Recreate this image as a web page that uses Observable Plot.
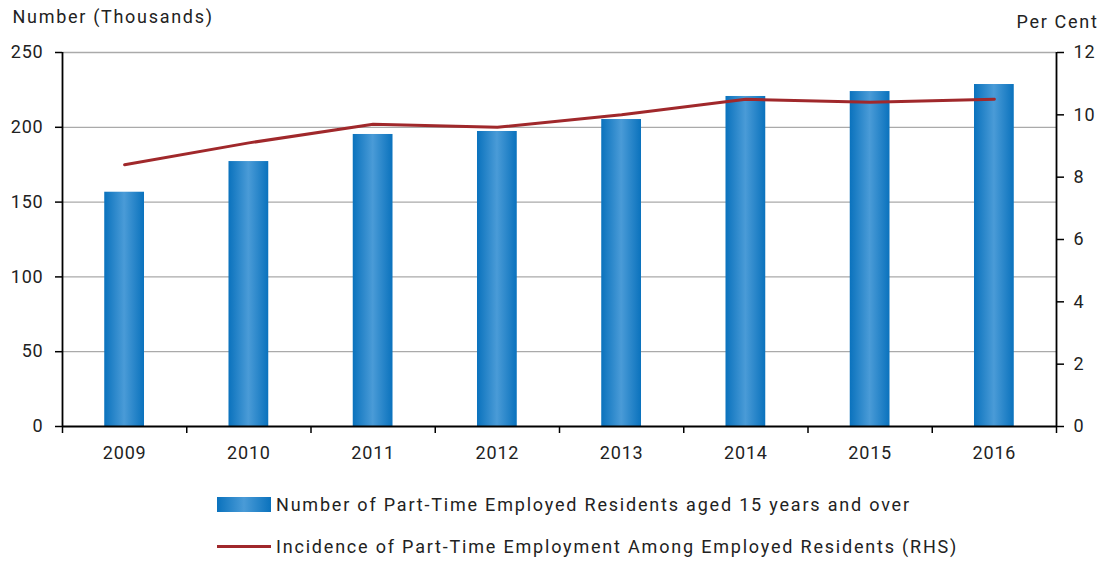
<!DOCTYPE html>
<html>
<head>
<meta charset="utf-8">
<script src="https://cdn.jsdelivr.net/npm/d3@7"></script>
<script src="https://cdn.jsdelivr.net/npm/@observablehq/plot@0.6"></script>
<style>
  html, body { margin: 0; padding: 0; background: #fff; }
  body { width: 1103px; height: 563px; overflow: hidden; font-family: Roboto, "Liberation Sans", sans-serif; color: #222; }
  #chart svg { display: block; }
  #chart g[aria-label="text"] text { letter-spacing: 1.7px; }
  #chart g[aria-label$="tick label"] text { letter-spacing: 0.8px; }
  .legend { position: relative; height: 93px; font-size: 18px; letter-spacing: 1.8px; }
  .item { position: absolute; left: 217px; display: flex; align-items: center; }
  .sw-bar { width: 54px; height: 15px; background: linear-gradient(to right, #0a72bd, #4a9bd7 50%, #0a72bd); margin-right: 5px; }
  .sw-line { width: 54px; height: 3px; background: #a0282b; margin-right: 5px; }
</style>
</head>
<body>
<div id="chart"></div>
<div class="legend">
  <div class="item" style="top:24px"><span class="sw-bar"></span><span id="lg1"></span></div>
  <div class="item" style="top:66px"><span class="sw-line"></span><span id="lg2"></span></div>
</div>
<script>
const years = [2009, 2010, 2011, 2012, 2013, 2014, 2015, 2016];
const partTimeThousands = [156.6, 177.1, 195.2, 197.2, 205.2, 220.6, 223.9, 228.6];
const incidencePct = [8.4, 9.1, 9.7, 9.6, 10.0, 10.5, 10.4, 10.5];
const leftTicks = [0, 50, 100, 150, 200, 250];
const rightTicks = [0, 2, 4, 6, 8, 10, 12];
const leftTitle = "Number (Thousands)";
const rightTitle = "Per Cent";
const seriesNames = ["Number of Part-Time Employed Residents aged 15 years and over",
                     "Incidence of Part-Time Employment Among Employed Residents (RHS)"];

const leftMax = 250, rightMax = 12;
const toLeft = v => v * leftMax / rightMax;
const data = years.map((y, i) => ({year: y, n: partTimeThousands[i], pct: incidencePct[i]}));
const halfBar = 0.16;
const boundaries = d3.range(years[0] - 0.5, years[years.length - 1] + 1, 1);

function defs() {
  const ns = "http://www.w3.org/2000/svg";
  const d = document.createElementNS(ns, "defs");
  const g = document.createElementNS(ns, "linearGradient");
  g.setAttribute("id", "barGrad");
  g.setAttribute("x1", "0"); g.setAttribute("x2", "1"); g.setAttribute("y1", "0"); g.setAttribute("y2", "0");
  [["0%", "#0a72bd"], ["50%", "#4a9bd7"], ["100%", "#0a72bd"]].forEach(([o, c]) => {
    const s = document.createElementNS(ns, "stop");
    s.setAttribute("offset", o); s.setAttribute("stop-color", c);
    g.appendChild(s);
  });
  d.appendChild(g);
  return d;
}

const chart = Plot.plot({
  width: 1103,
  height: 470,
  marginTop: 52,
  marginLeft: 62,
  marginRight: 47,
  marginBottom: 44,
  style: {fontFamily: "Roboto, 'Liberation Sans', sans-serif", fontSize: "18px", color: "#222", background: "#fff"},
  x: {domain: [years[0] - 0.5, years[years.length - 1] + 0.5], axis: null},
  y: {domain: [0, leftMax], axis: null},
  marks: [
    defs,
    Plot.ruleY(leftTicks.filter(t => t > 0), {stroke: "#aaaaaa", strokeWidth: 1.3}),
    Plot.rectY(data, {x1: d => d.year - halfBar, x2: d => d.year + halfBar, y: "n", fill: "url(#barGrad)"}),
    Plot.line(data, {x: "year", y: d => toLeft(d.pct), stroke: "#a0282b", strokeWidth: 3}),
    Plot.axisY({anchor: "left", ticks: leftTicks, tickSize: 7, tickPadding: 12, label: null, tickFormat: d3.format("d"), stroke: "#000", strokeWidth: 1.5}),
    Plot.ruleX([years[0] - 0.5], {stroke: "#000", strokeWidth: 1.8}),
    Plot.axisY({anchor: "right", ticks: rightTicks.map(toLeft), tickSize: 7, tickPadding: 10, label: null,
      tickFormat: d => d3.format("d")(Math.round(d * rightMax / leftMax)), stroke: "#000", strokeWidth: 1.5}),
    Plot.ruleX([years[years.length - 1] + 0.5], {stroke: "#000", strokeWidth: 1.8}),
    Plot.ruleY([0], {stroke: "#000", strokeWidth: 1.8}),
    Plot.axisX({ticks: boundaries, tickSize: 7, tickFormat: () => "", label: null, stroke: "#000", strokeWidth: 1.5}),
    Plot.axisX({ticks: years, tickSize: 0, tickPadding: 20, tickFormat: d3.format("d"), label: null}),
    Plot.text([leftTitle], {frameAnchor: "top-left", dx: -50, dy: -42, textAnchor: "start", fontSize: 18, fill: "#222"}),
    Plot.text([rightTitle], {frameAnchor: "top-right", dx: 42, dy: -37, textAnchor: "end", fontSize: 18, fill: "#222"})
  ]
});
document.getElementById("chart").appendChild(chart);
document.getElementById("lg1").textContent = seriesNames[0];
document.getElementById("lg2").textContent = seriesNames[1];
</script>
</body>
</html>
